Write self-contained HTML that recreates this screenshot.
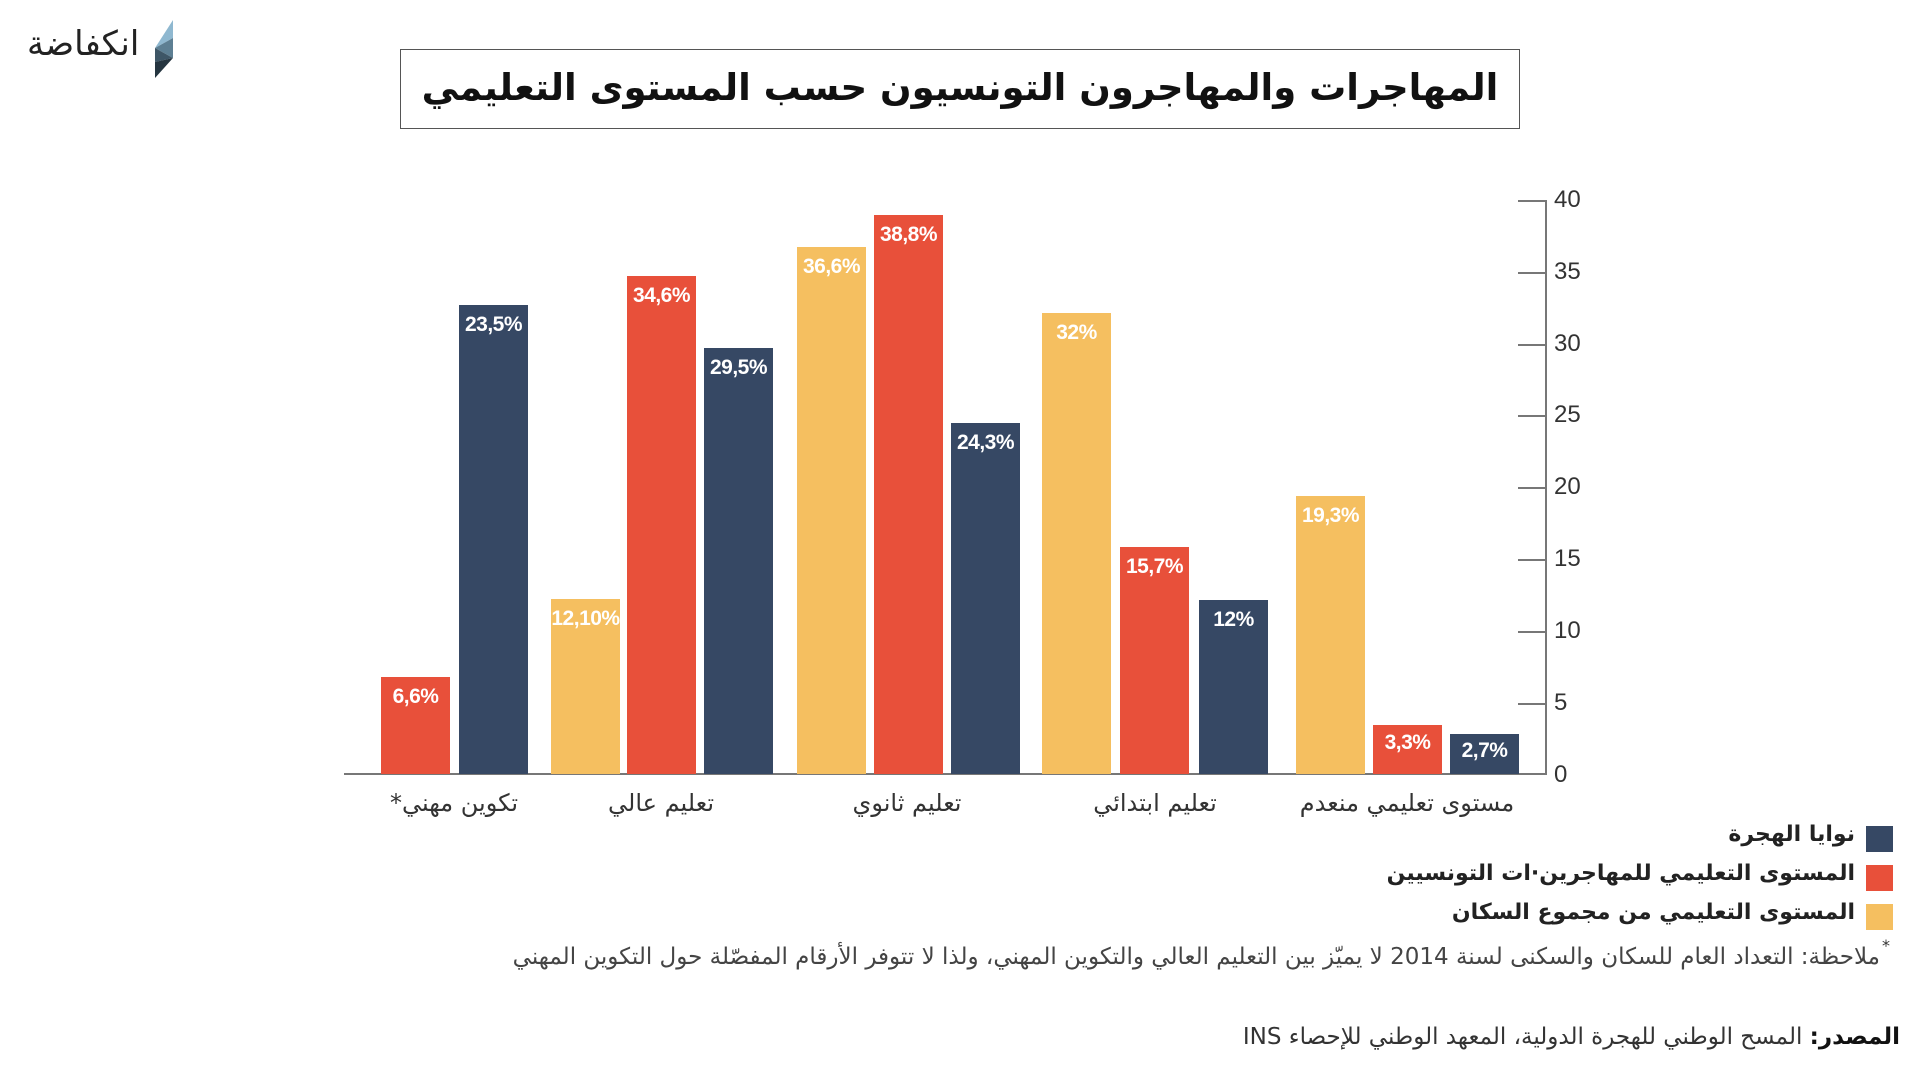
<!DOCTYPE html>
<html><head><meta charset="utf-8"><style>
body{margin:0;width:1920px;height:1080px;background:#fff;position:relative;overflow:hidden;font-family:"DejaVu Sans",sans-serif}
.a{position:absolute}
.bar{position:absolute;width:69px}
.B{background:#364864}.R{background:#e8503a}.Y{background:#f5bf60}
.v{position:absolute;width:69px;text-align:center;color:#fff;font-family:"Liberation Sans Narrow","Liberation Sans",sans-serif;font-weight:bold;font-size:21px;letter-spacing:-0.5px}
.tk{position:absolute;left:1518px;width:28px;height:1.5px;background:#777}
.tl{position:absolute;left:1554px;font-family:"Liberation Sans Narrow","Liberation Sans",sans-serif;font-size:24px;color:#333;line-height:24px}
.cat{position:absolute;top:789px;width:300px;margin-left:-150px;text-align:center;font-size:24px;color:#333;direction:rtl}
.lg{position:absolute;right:65px;font-weight:bold;font-size:22px;color:#222;direction:rtl;white-space:nowrap}
.sq{position:absolute;left:1866px;width:27px;height:26px}
</style></head><body>
<div class="a" style="left:27px;top:24px;font-size:34px;color:#222;direction:rtl">انكفاضة</div>
<svg class="a" style="left:153px;top:20px" width="22" height="58"><polygon points="20,0 20,18 2,28" fill="#8fb8d0"/><polygon points="2,28 20,18 20,38" fill="#5d7f93"/><polygon points="2,28 20,38 2,42" fill="#3e5666"/><polygon points="2,42 20,38 2,58" fill="#253540"/></svg>
<div class="a" style="left:400px;top:49px;width:1118px;height:78px;border:1.5px solid #555;text-align:center;font-weight:bold;font-size:37px;line-height:76px;color:#111;direction:rtl">المهاجرات والمهاجرون التونسيون حسب المستوى التعليمي</div>

<div class="a" style="left:1545px;top:200px;width:1.5px;height:575px;background:#777"></div>
<div class="a" style="left:344px;top:773px;width:1202px;height:1.5px;background:#777"></div>
<div class="tk" style="top:200px"></div><div class="tk" style="top:272px"></div><div class="tk" style="top:344px"></div><div class="tk" style="top:415px"></div><div class="tk" style="top:487px"></div><div class="tk" style="top:559px"></div><div class="tk" style="top:631px"></div><div class="tk" style="top:703px"></div>
<div class="tl" style="top:188px">40</div><div class="tl" style="top:260px">35</div><div class="tl" style="top:332px">30</div><div class="tl" style="top:403px">25</div><div class="tl" style="top:475px">20</div><div class="tl" style="top:547px">15</div><div class="tl" style="top:619px">10</div><div class="tl" style="top:691px">5</div><div class="tl" style="top:763px">0</div>

<div class="bar R" style="left:381px;top:677px;height:97px"></div><div class="v" style="left:381px;top:685px">6,6%</div>
<div class="bar B" style="left:459px;top:305px;height:469px"></div><div class="v" style="left:459px;top:313px">23,5%</div>
<div class="bar Y" style="left:551px;top:599px;height:175px"></div><div class="v" style="left:551px;top:607px">12,10%</div>
<div class="bar R" style="left:627px;top:276px;height:498px"></div><div class="v" style="left:627px;top:284px">34,6%</div>
<div class="bar B" style="left:704px;top:348px;height:426px"></div><div class="v" style="left:704px;top:356px">29,5%</div>
<div class="bar Y" style="left:797px;top:247px;height:527px"></div><div class="v" style="left:797px;top:255px">36,6%</div>
<div class="bar R" style="left:874px;top:215px;height:559px"></div><div class="v" style="left:874px;top:223px">38,8%</div>
<div class="bar B" style="left:951px;top:423px;height:351px"></div><div class="v" style="left:951px;top:431px">24,3%</div>
<div class="bar Y" style="left:1042px;top:313px;height:461px"></div><div class="v" style="left:1042px;top:321px">32%</div>
<div class="bar R" style="left:1120px;top:547px;height:227px"></div><div class="v" style="left:1120px;top:555px">15,7%</div>
<div class="bar B" style="left:1199px;top:600px;height:174px"></div><div class="v" style="left:1199px;top:608px">12%</div>
<div class="bar Y" style="left:1296px;top:496px;height:278px"></div><div class="v" style="left:1296px;top:504px">19,3%</div>
<div class="bar R" style="left:1373px;top:725px;height:49px"></div><div class="v" style="left:1373px;top:731px">3,3%</div>
<div class="bar B" style="left:1450px;top:734px;height:40px"></div><div class="v" style="left:1450px;top:739px">2,7%</div>

<div class="cat" style="left:454px">تكوين مهني*</div>
<div class="cat" style="left:661px">تعليم عالي</div>
<div class="cat" style="left:907px">تعليم ثانوي</div>
<div class="cat" style="left:1155px">تعليم ابتدائي</div>
<div class="cat" style="left:1407px">مستوى تعليمي منعدم</div>

<div class="sq B" style="top:826px"></div><div class="lg" style="top:822px">نوايا الهجرة</div>
<div class="sq R" style="top:865px"></div><div class="lg" style="top:861px">المستوى التعليمي للمهاجرين·ات التونسيين</div>
<div class="sq Y" style="top:904px"></div><div class="lg" style="top:900px">المستوى التعليمي من مجموع السكان</div>
<div class="a" style="left:1882px;top:936px;font-size:16px;color:#333">*</div>
<div class="a" style="right:40px;top:944px;font-size:23px;color:#444;direction:rtl;white-space:nowrap">ملاحظة: التعداد العام للسكان والسكنى لسنة 2014 لا يميّز بين التعليم العالي والتكوين المهني، ولذا لا تتوفر الأرقام المفصّلة حول التكوين المهني</div>
<div class="a" style="right:20px;top:1024px;font-size:23px;color:#333;direction:rtl;white-space:nowrap"><b style="color:#111">المصدر:</b> المسح الوطني للهجرة الدولية، المعهد الوطني للإحصاء INS</div>
</body></html>
